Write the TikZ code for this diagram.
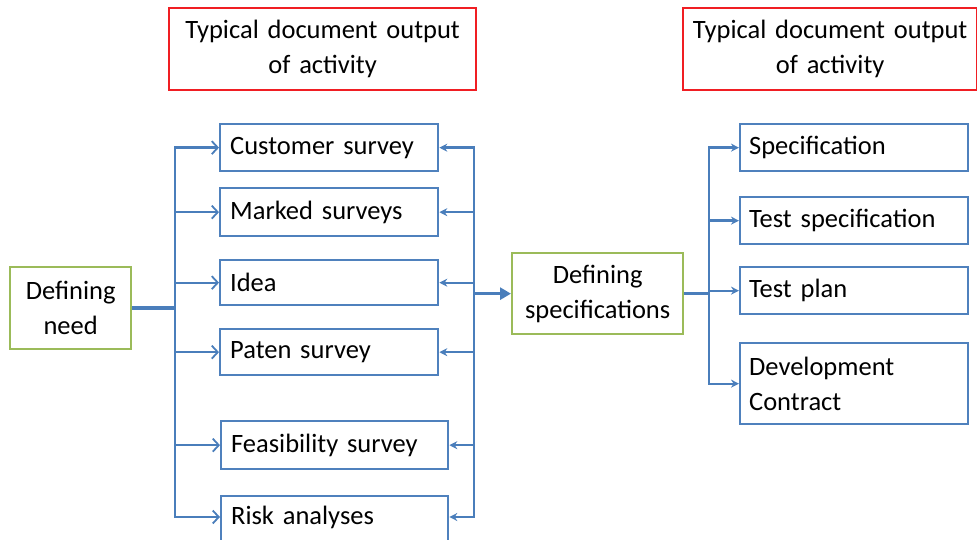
\documentclass[tikz,border=0pt]{standalone}
\usepackage{fontspec}
\setmainfont{Carlito}[WordSpace=0.75]
\usetikzlibrary{arrows.meta,calc}
\definecolor{boxblue}{RGB}{79,129,189}
\definecolor{lineblue}{RGB}{74,126,187}
\definecolor{boxgreen}{RGB}{155,187,89}
\definecolor{boxred}{RGB}{240,30,35}
\tikzset{
  basebox/.style={anchor=north west, inner ysep=0pt, font=\fontsize{26.5}{35}\selectfont, line width=2.3pt},
  bluebox/.style={basebox, draw=boxblue, inner xsep=10pt, align=left},
  greenbox/.style={basebox, draw=boxgreen, inner xsep=4pt, align=center},
  redbox/.style={basebox, draw=boxred, inner xsep=4pt, align=center},
  conn/.style={draw=lineblue, line width=2.3pt},
  busline/.style={conn, line cap=rect},
  thickconn/.style={draw=lineblue, line width=3.5pt},
  openarr/.style={conn, -{Straight Barb[length=6pt,width=13pt,line width=1.8pt]}},
  smallarr/.style={conn, -{Stealth[length=8pt,width=8pt]}},
  bigarr/.style={thickconn, -{Triangle[length=11pt,width=12pt]}}
}
\begin{document}
\begin{tikzpicture}[x=1pt,y=-1pt]
\useasboundingbox (0,0) rectangle (977,540);

% header boxes
\node[redbox, minimum width=307pt, minimum height=82pt, text width=299pt] (r1) at (168,7) {Typical document output\\of activity};
\node[redbox, minimum width=294pt, minimum height=82pt, text width=286pt] (r2) at (682,7) {Typical document output\\of activity};

% left activity
\node[greenbox, minimum width=121pt, minimum height=82pt, text width=113pt] (need) at (9,266) {Defining\\need};

% left documents
\node[bluebox, minimum width=218pt, minimum height=47pt, text width=198pt] (cs) at (219,123) {Customer survey};
\node[bluebox, minimum width=218pt, minimum height=48pt, text width=198pt] (ms) at (219,187) {Marked surveys};
\node[bluebox, minimum width=218pt, minimum height=45pt, text width=198pt] (idea) at (219,259) {Idea};
\node[bluebox, minimum width=218pt, minimum height=46pt, text width=198pt] (ps) at (219,328) {Paten survey};
\node[bluebox, minimum width=227pt, minimum height=48pt, text width=207pt] (fs) at (220,420) {Feasibility survey};
\node[bluebox, minimum width=227pt, text width=207pt, text height=28pt, text depth=50pt] (ra) at (220,495) {Risk analyses};

% middle activity
\node[greenbox, minimum width=171pt, minimum height=81pt, text width=163pt] (defspec) at (511,252) {Defining\\specifications};

% right documents
\node[bluebox, minimum width=228pt, minimum height=47pt, text width=210pt, inner xsep=9pt] (spec) at (739,123) {Specification};
\node[bluebox, minimum width=228pt, minimum height=47pt, text width=210pt, inner xsep=9pt] (tspec) at (739,196) {Test specification};
\node[bluebox, minimum width=228pt, minimum height=47pt, text width=210pt, inner xsep=9pt] (tplan) at (739,266) {Test plan};
\node[bluebox, minimum width=228pt, minimum height=81pt, text width=210pt, inner xsep=9pt] (dev) at (739,342) {Development\\Contract};

% bus coordinates
\coordinate (lbx) at (175,0);
\coordinate (rbx) at (474,0);
\coordinate (sbx) at (709,0);
\coordinate (raL) at ($(ra.north west)+(0,22)$);
\coordinate (raR) at ($(ra.north east)+(0,22)$);

% left bus
\draw[thickconn] (need.east) -- (need.east -| lbx);
\draw[busline] (cs.west -| lbx) -- (raL -| lbx);
\foreach \n in {cs,ms,idea,ps,fs}
  \draw[openarr] (\n.west -| lbx) -- (\n.west);
\draw[openarr] (raL -| lbx) -- (raL);

% right bus (collecting into defining specifications)
\draw[busline] (cs.east -| rbx) -- (raR -| rbx);
\foreach \n in {cs,ms,idea,ps,fs}
  \draw[smallarr] (\n.east -| rbx) -- (\n.east);
\draw[smallarr] (raR -| rbx) -- (raR);
\draw[bigarr] (defspec.west -| rbx) -- (defspec.west);

% specification bus
\draw[thickconn] (defspec.east) -- (defspec.east -| sbx);
\draw[busline] (spec.west -| sbx) -- (dev.west -| sbx);
\foreach \n in {spec,tspec,tplan,dev}
  \draw[smallarr] (\n.west -| sbx) -- (\n.west);
\end{tikzpicture}
\end{document}
